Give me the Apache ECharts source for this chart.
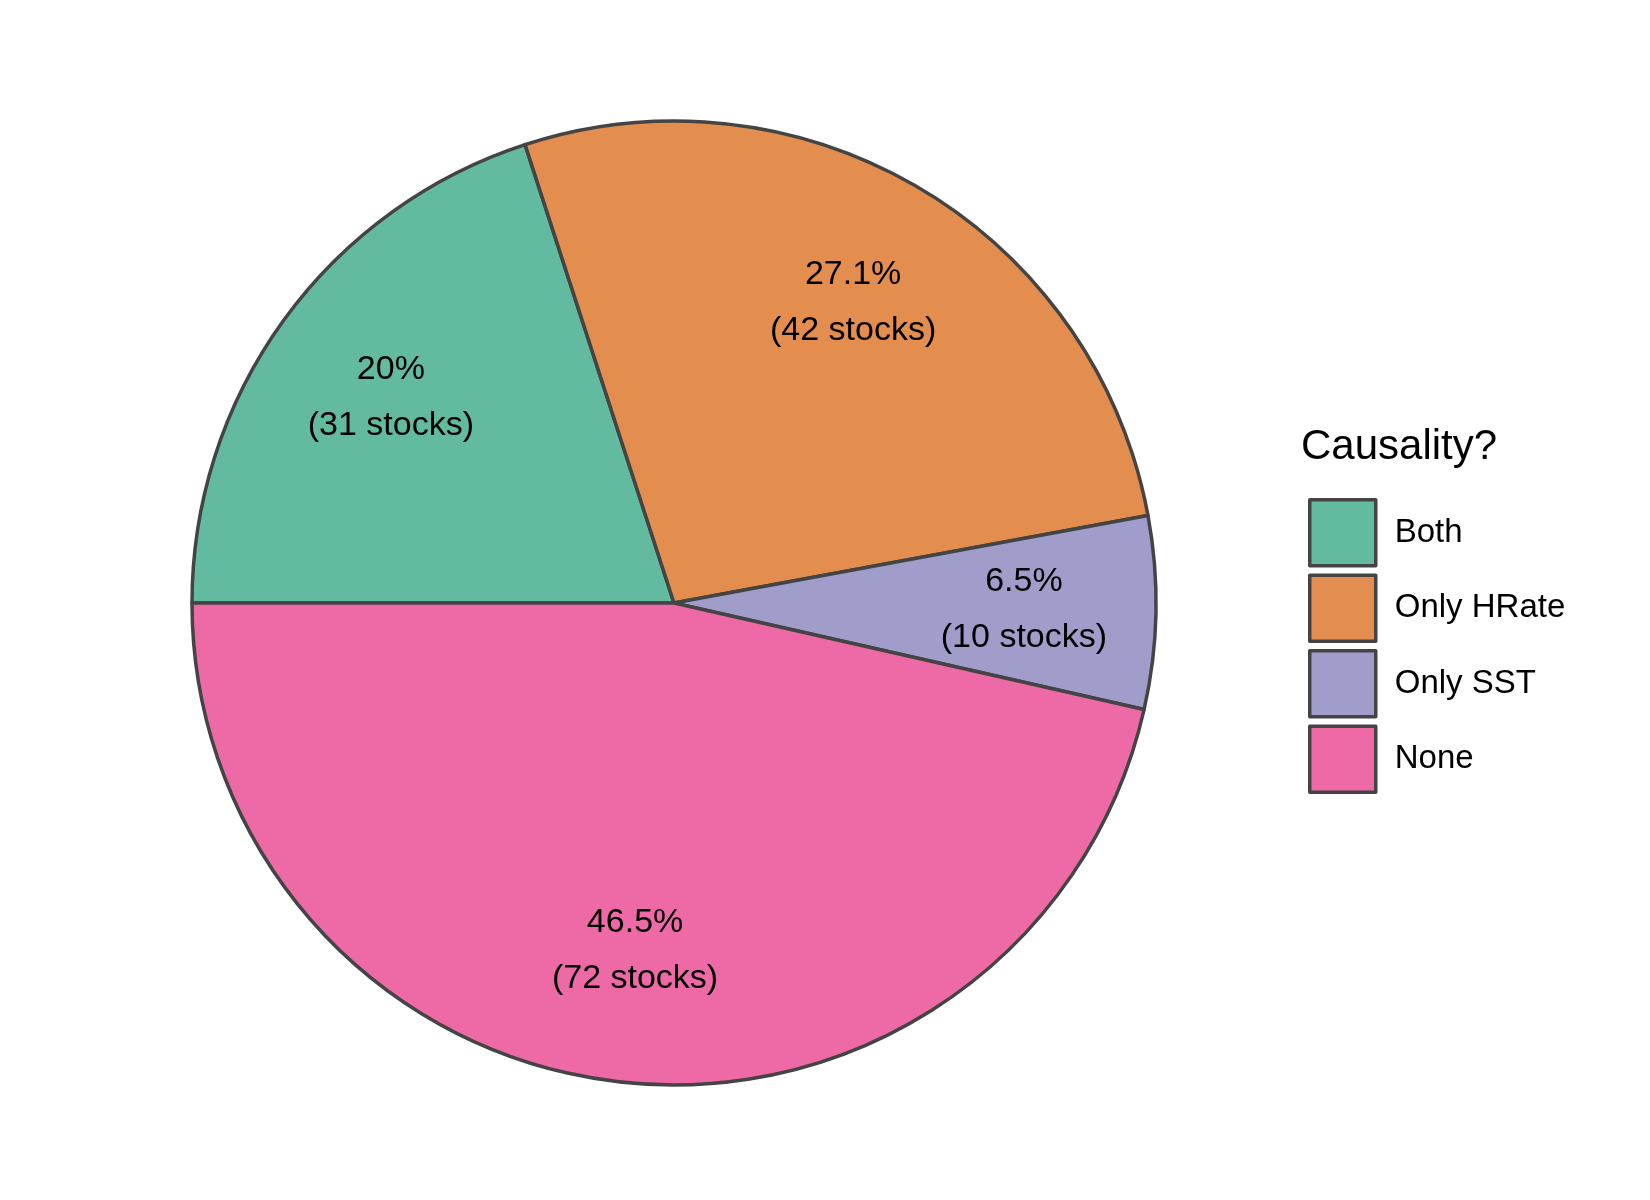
<!DOCTYPE html>
<html><head><meta charset="utf-8">
<script src="https://cdn.jsdelivr.net/npm/echarts@6/dist/echarts.min.js"></script>
<style>html,body{margin:0;padding:0;background:#fff}#c{width:1650px;height:1200px}</style>
</head><body><div id="c"></div>
<script>
const categories = ["Both", "Only HRate", "Only SST", "None"];
const counts = [31, 42, 10, 72];
const percentLabels = ["20%", "27.1%", "6.5%", "46.5%"];
const colors = ["#62BBA0", "#E38E4F", "#A09DCB", "#EE6AA7"];

const chart = echarts.init(document.getElementById('c'));
const data = categories.map((c, i) => ({name: c, value: counts[i], itemStyle: {color: colors[i]}}));
const font = "'Liberation Sans', Arial, sans-serif";
chart.setOption({
  animation: false,
  textStyle: {fontFamily: font},
  graphic: [{type: 'text', left: 1301, top: 426, style: {text: 'Causality?', font: '42px ' + font, fill: '#000'}}],
  legend: {
    orient: 'vertical', left: 1303, top: 493, itemWidth: 66, itemHeight: 66, itemGap: 6,
    icon: 'rect', data: categories,
    itemStyle: {borderColor: '#444', borderWidth: 3.5},
    textStyle: {fontSize: 33, color: '#000', fontFamily: font, padding: [0, 0, 0, 14]}
  },
  series: [{
    type: 'pie', center: [674, 603], radius: 482, startAngle: 180, clockwise: true,
    data: data, label: {show: false}, labelLine: {show: false}, silent: true,
    itemStyle: {borderColor: '#444', borderWidth: 3.5}
  }, {
    type: 'pie', center: [674, 603], radius: 694, startAngle: 180, clockwise: true,
    data: categories.map((c, i) => ({name: c + ' ', value: counts[i]})),
    itemStyle: {color: 'rgba(0,0,0,0)'}, silent: true, legendHoverLink: false,
    label: {show: true, position: 'inside', color: '#000', fontSize: 34, lineHeight: 56, fontFamily: font,
      formatter: p => percentLabels[p.dataIndex] + '\n(' + counts[p.dataIndex] + ' stocks)'},
    labelLine: {show: false}
  }]
});
</script></body></html>
